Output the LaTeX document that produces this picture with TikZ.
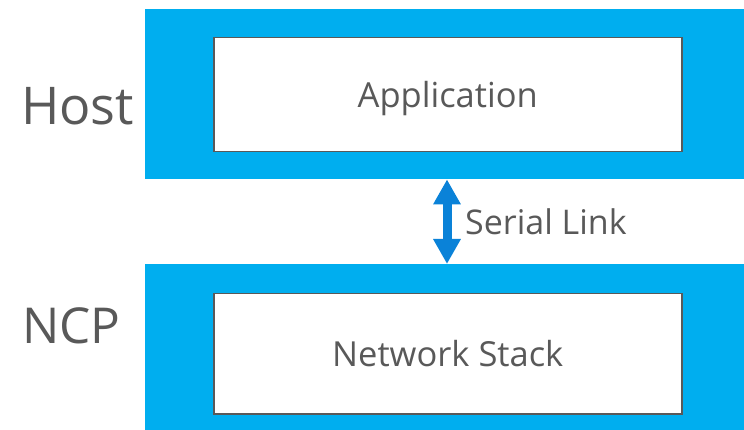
\documentclass[tikz,border=0pt]{standalone}
\usepackage{fontspec}
\setmainfont{Open Sans}
\usetikzlibrary{arrows.meta}
\definecolor{layerblue}{HTML}{00AEEF}
\definecolor{arrowblue}{HTML}{0A82D8}
\definecolor{textgray}{HTML}{595959}
\tikzset{
  layer/.style={fill=layerblue, draw=none, inner sep=0pt, anchor=north west},
  innerbox/.style={fill=white, draw=textgray, line width=1.5pt, inner sep=0pt, anchor=north west,
     text=textgray, text depth=0pt, font=\fontsize{34.5}{38}\selectfont},
  sidelabel/.style={text=textgray, anchor=base west, inner sep=0pt},
  link/.style={draw=arrowblue, line width=9pt, {Triangle[width=26pt,length=25pt]}-{Triangle[width=26pt,length=25pt]}}
}
\begin{document}
\begin{tikzpicture}[x=1pt,y=-1pt]
\useasboundingbox (0,0) rectangle (744,430);
\node[layer, minimum width=599pt, minimum height=170pt] (host) at (145,9) {};
\node[layer, minimum width=599pt, minimum height=166pt] (ncp) at (145,264) {};
\node[innerbox, minimum width=468pt, minimum height=114pt] (app) at (213,37) {Application};
\node[innerbox, minimum width=468pt, minimum height=120pt] (stack) at (213,293) {Network Stack};
\node[sidelabel, font=\fontsize{52}{56}\selectfont] (hostlbl) at (21,125) {Host};
\node[sidelabel, font=\fontsize{49.5}{54}\selectfont] (ncplbl) at (22,343) {NCP};
\coordinate (a) at (host.south -| 447,0);
\coordinate (b) at (ncp.north -| 447,0);
\draw[link] (a) -- (b);
\node[sidelabel, font=\fontsize{34}{37}\selectfont] (serial) at (465,235) {Serial Link};
\end{tikzpicture}
\end{document}
